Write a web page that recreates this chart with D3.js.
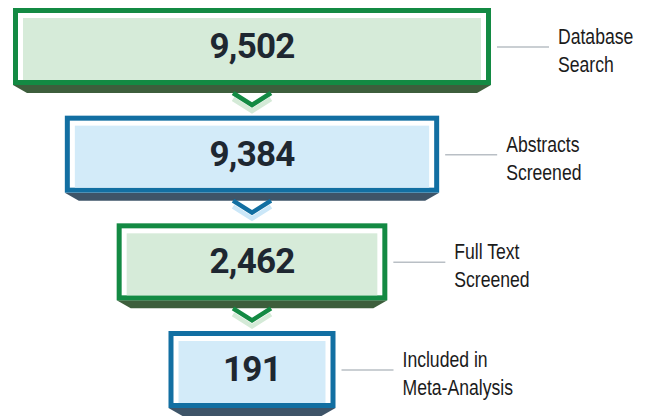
<!DOCTYPE html>
<html>
<head>
<meta charset="utf-8">
<script src="https://cdn.jsdelivr.net/npm/d3@7"></script>
<style>
  html, body { margin: 0; padding: 0; background: #fff; }
  svg { display: block; }
  .num { font-family: Roboto, "Liberation Sans", sans-serif; font-weight: 700; font-size: 35px; letter-spacing: -0.8px; fill: #1e2731; }
  .lbl { font-family: "Liberation Sans", Arial, sans-serif; font-size: 22px; fill: #1b1b1b; }
</style>
</head>
<body>
<svg id="chart" width="652" height="417"></svg>
<script>
// stages of the screening funnel
var stageLabels = [
  ["Database", "Search"],
  ["Abstracts", "Screened"],
  ["Full Text", "Screened"],
  ["Included in", "Meta-Analysis"]
];
var stageCounts = [9502, 9384, 2462, 191];

// green / blue alternate down the funnel
var palette = {
  green: { border: "#138a43", fill: "#d6ebd9", shadow: "#3d5e3c", soft: "#d4ead7" },
  blue:  { border: "#126fa2", fill: "#d3ebf9", shadow: "#3e5468", soft: "#cbe7f8" }
};

var svg = d3.select("#chart");
var cx = 252;
var boxH = 77, border = 5, gap = 5, shadowH = 8, shadowInset = 14;

// funnel widths shrink by stage
var idx = d3.range(stageCounts.length);
var wScale = d3.scaleLinear().domain([0, stageCounts.length - 1]).range([478, 167]);
var yScale = d3.scaleLinear().domain([0, stageCounts.length - 1]).range([8, 331]);
var fmt = d3.format(",");

var g = svg.selectAll("g.stage").data(idx).enter().append("g").attr("class", "stage");

g.each(function(i) {
  var sel = d3.select(this);
  var c = palette[i % 2 == 0 ? "green" : "blue"];
  var w = wScale(i), x0 = cx - w / 2, y0 = yScale(i);

  // dark shadow under box
  sel.append("path")
    .attr("d", "M" + x0 + "," + (y0 + boxH) + "L" + (x0 + w) + "," + (y0 + boxH) +
      "L" + (x0 + w - shadowInset) + "," + (y0 + boxH + shadowH) +
      "L" + (x0 + shadowInset) + "," + (y0 + boxH + shadowH) + "Z")
    .attr("fill", c.shadow);

  // outer border, white gap, fill
  sel.append("rect").attr("x", x0).attr("y", y0).attr("width", w).attr("height", boxH).attr("fill", c.border);
  sel.append("rect").attr("x", x0 + border).attr("y", y0 + border)
    .attr("width", w - 2 * border).attr("height", boxH - 2 * border).attr("fill", "#fff");
  sel.append("rect").attr("x", x0 + border + gap).attr("y", y0 + border + gap)
    .attr("width", w - 2 * (border + gap)).attr("height", boxH - 2 * border - gap).attr("fill", c.fill);

  sel.append("text").attr("class", "num")
    .attr("x", cx).attr("y", y0 + 50)
    .attr("text-anchor", "middle")
    .text(fmt(stageCounts[i]));

  // connector line + label (narrow type, squeezed horizontally)
  var ly = y0 + 39;
  var lx = x0 + w + 6;
  sel.append("line").attr("x1", lx).attr("x2", lx + 52).attr("y1", ly).attr("y2", ly)
    .attr("stroke", "#b9bfc5").attr("stroke-width", 1.5);
  var t = sel.append("text").attr("class", "lbl")
    .attr("transform", "translate(" + (lx + 61) + ",0) scale(0.8,1)");
  t.append("tspan").attr("x", 0).attr("y", ly - 3).text(stageLabels[i][0]);
  t.append("tspan").attr("x", 0).attr("y", ly + 25).text(stageLabels[i][1]);

  // chevron to next stage
  if (i < stageCounts.length - 1) {
    var top = y0 + boxH + shadowH;
    var chev = function(dy) {
      return "M" + (cx - 19) + "," + (top + dy) + "L" + cx + "," + (top + 12 + dy) + "L" + (cx + 19) + "," + (top + dy);
    };
    sel.append("path").attr("d", chev(6)).attr("fill", "none")
      .attr("stroke", c.soft).attr("stroke-width", 4.5);
    sel.append("path").attr("d", chev(0)).attr("fill", "none")
      .attr("stroke", c.border).attr("stroke-width", 4.5);
  }
});
</script>
</body>
</html>
